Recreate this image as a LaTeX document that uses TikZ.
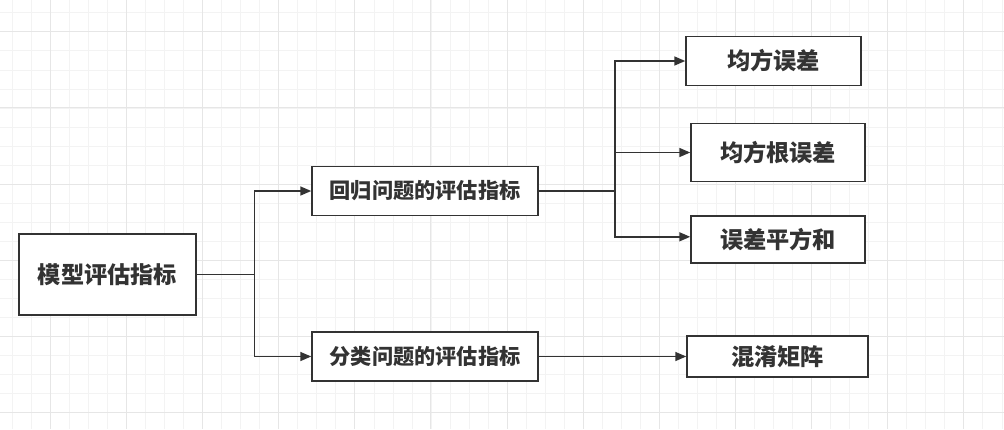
\documentclass[tikz,border=0pt]{standalone}
\usepackage{fontspec}
\newfontfamily\cjk{Noto Sans CJK SC}
\usetikzlibrary{arrows.meta}
\definecolor{ink}{HTML}{333333}
\definecolor{gridminor}{HTML}{F3F3F3}
\definecolor{gridmajor}{HTML}{E6E6E6}
\tikzset{
  box/.style={draw=ink, line width=1.5pt, fill=white, text=ink, inner sep=0pt, font=\cjk\bfseries},
  big/.style={box, font=\cjk\bfseries\fontsize{23.2}{25}\selectfont},
  mid/.style={box, font=\cjk\bfseries\fontsize{21.2}{23}\selectfont},
  conn/.style={draw=ink, line width=1.6pt},
  arr/.style={conn, -{Triangle[length=11pt,width=9pt]}}
}
\begin{document}
\begin{tikzpicture}[x=1pt,y=-1pt]
\useasboundingbox (0,0) rectangle (1004,429);
\fill[white] (0,0) rectangle (1004,429);
% grid
\foreach \i in {0,...,52} {
  \draw[gridminor, line width=0.7pt] ({12.3+19.03*\i},0) -- ({12.3+19.03*\i},429);
}
\foreach \i in {0,...,22} {
  \draw[gridminor, line width=0.7pt] (0,{12.7+19.05*\i}) -- (1004,{12.7+19.05*\i});
}
\foreach \i in {0,...,12} {
  \draw[gridmajor, line width=0.9pt] ({50.3+76.12*\i},0) -- ({50.3+76.12*\i},429);
}
\foreach \i in {0,...,5} {
  \draw[gridmajor, line width=0.9pt] (0,{31.7+76.2*\i}) -- (1004,{31.7+76.2*\i});
}
% nodes
\node[big, minimum width=177pt, minimum height=81pt] (top) at (107.5,274.5) {模型评估指标};
\node[mid, minimum width=226pt, minimum height=49pt] (reg) at (425,191) {回归问题的评估指标};
\node[mid, minimum width=226pt, minimum height=49pt] (cls) at (425,356.5) {分类问题的评估指标};
\node[big, minimum width=175pt, minimum height=49pt] (mse) at (773.5,61) {均方误差};
\node[big, minimum width=174pt, minimum height=58pt] (rmse) at (778,152.5) {均方根误差};
\node[big, minimum width=174pt, minimum height=47pt] (sse) at (778,239.3) {误差平方和};
\node[big, minimum width=181pt, minimum height=41pt] (cm) at (777.5,356.5) {混淆矩阵};
% junctions
\coordinate (j1) at (254.5,274.5);
\coordinate (j2) at (615,191);
% connectors
\draw[conn] (top.east) -- (j1);
\draw[arr] (j1) |- (reg.west);
\draw[arr] (j1) |- (cls.west);
\draw[conn] (reg.east) -- (j2);
\draw[arr] (j2) |- (mse.west);
\draw[arr] (j2) |- (rmse.west);
\draw[arr] (j2) |- ([yshift=2.5pt]sse.west);
\draw[arr] (cls.east) -- (cm.west);
\end{tikzpicture}
\end{document}
